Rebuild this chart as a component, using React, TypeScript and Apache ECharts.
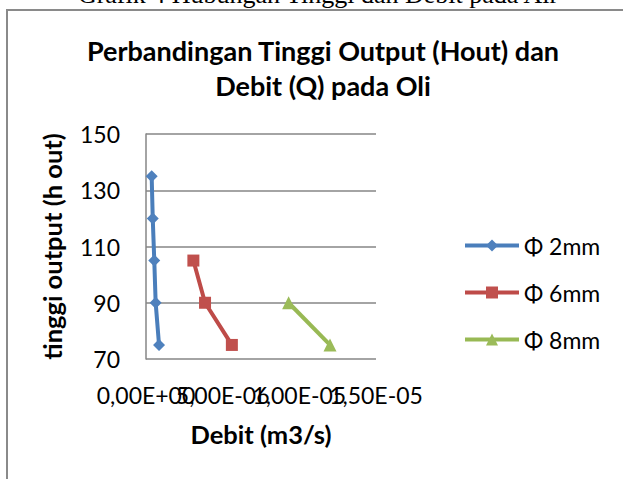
import React, { useEffect, useRef } from "react";
import * as echarts from "echarts";

const seriesNames = ["Φ 2mm", "Φ 6mm", "Φ 8mm"];
const debit2mm = [0.37e-6, 0.44e-6, 0.54e-6, 0.63e-6, 0.85e-6];
const tinggi2mm = [135, 120, 105, 90, 75];
const debit6mm = [3.09e-6, 3.85e-6, 5.6e-6];
const tinggi6mm = [105, 90, 75];
const debit8mm = [9.3e-6, 12.0e-6];
const tinggi8mm = [90, 75];
const xTickLabels = ["0,00E+00", "5,00E-06", "1,00E-05", "1,50E-05"];
const lineColors = ["#4A7EBB", "#BE4B48", "#98B954"];
const markerColors = ["#4F81BD", "#C0504D", "#9BBB59"];
const symbols = ["diamond", "rect", "triangle"];
const symbolSizes = [12, 12, 13];

const FONT = "Lato";

export default function App() {
  const ref = useRef<HTMLDivElement>(null);
  useEffect(() => {
    if (!ref.current) return;
    const chart = echarts.init(ref.current, undefined, { renderer: "svg" });
    const xs = [debit2mm, debit6mm, debit8mm];
    const ys = [tinggi2mm, tinggi6mm, tinggi8mm];
    const xBase = {
      type: "value",
      position: "bottom",
      min: 0,
      max: 1.5e-5,
      interval: 5e-6,
      axisLine: { show: false },
      axisTick: { show: false },
      splitLine: { show: false },
    };
    const labelBase = {
      fontFamily: FONT,
      fontSize: 23,
      color: "#000",
      margin: 24,
      hideOverlap: false,
    };
    chart.setOption({
      animation: false,
      backgroundColor: "#ffffff",
      title: {
        text: "Perbandingan Tinggi Output (Hout) dan\nDebit (Q) pada Oli",
        left: 318,
        top: 28,
        textAlign: "center",
        textStyle: {
          fontFamily: FONT,
          fontWeight: "bold",
          fontSize: 27,
          lineHeight: 35,
          color: "#000",
        },
      },
      graphic: [
        {
          type: "rect",
          shape: { x: 7, y: 10, width: 700, height: 600 },
          style: { fill: "none", stroke: "#8a8a8a", lineWidth: 2 },
          z: 0,
        },
        {
          type: "text",
          x: 318,
          y: -6,
          style: {
            text: "Grafik 4 Hubungan Tinggi dan Debit pada Air",
            fontFamily: "Liberation Serif",
            fontSize: 26,
            fill: "#000",
            align: "center",
            verticalAlign: "middle",
          },
        },
      ],
      grid: { left: 146, top: 134, width: 230, height: 225, containLabel: false },
      legend: {
        orient: "vertical",
        left: 458,
        top: 229,
        itemWidth: 54,
        itemHeight: 15,
        itemGap: 24,
        lineStyle: { width: 4 },
        textStyle: { fontFamily: FONT, fontSize: 23, color: "#000" },
        data: seriesNames,
      },
      xAxis: [
        {
          ...xBase,
          name: "Debit (m3/s)",
          nameLocation: "middle",
          nameGap: 62,
          nameTextStyle: { fontFamily: FONT, fontWeight: "bold", fontSize: 25.5, color: "#000" },
          axisLabel: {
            ...labelBase,
            formatter: (_v: number, i: number) => (i % 2 === 0 ? xTickLabels[i] : ""),
          },
        },
        {
          ...xBase,
          axisLabel: {
            ...labelBase,
            formatter: (_v: number, i: number) => (i % 2 === 1 ? xTickLabels[i] : ""),
          },
        },
      ],
      yAxis: {
        type: "value",
        min: 70,
        max: 150,
        interval: 20,
        name: "tinggi output (h out)",
        nameLocation: "middle",
        nameGap: 81,
        nameTextStyle: { fontFamily: FONT, fontWeight: "bold", fontSize: 25.5, color: "#000" },
        axisLine: { show: true, lineStyle: { color: "#868686", width: 1.5 } },
        axisTick: { show: false },
        splitLine: { show: true, lineStyle: { color: "#868686", width: 1.5 } },
        axisLabel: { fontFamily: FONT, fontSize: 23, color: "#000", margin: 26 },
      },
      series: seriesNames.map((name, i) => ({
        name,
        type: "line",
        xAxisIndex: 0,
        data: xs[i].map((x, j) => [x, ys[i][j]]),
        symbol: symbols[i],
        symbolSize: symbolSizes[i],
        lineStyle: { color: lineColors[i], width: 4 },
        itemStyle: { color: markerColors[i] },
        z: 3,
      })),
    });
    return () => chart.dispose();
  }, []);
  return (
    <div
      ref={ref}
      style={{ position: "fixed", left: 0, top: 0, width: 623, height: 479 }}
    />
  );
}
